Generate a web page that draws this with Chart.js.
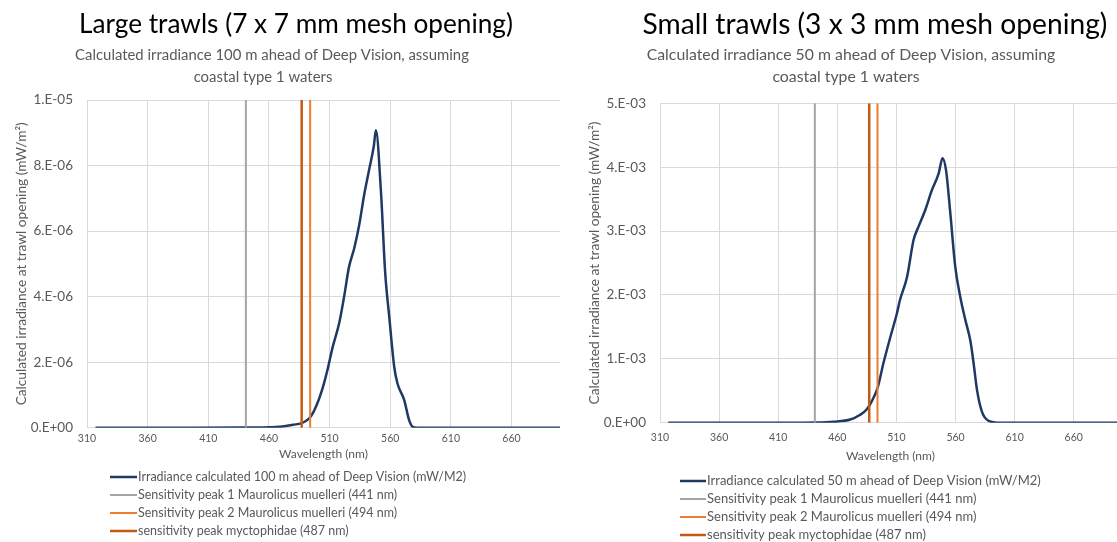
<!DOCTYPE html>
<html>
<head>
<meta charset="utf-8">
<script src="https://cdn.jsdelivr.net/npm/chart.js@4.4.1/dist/chart.umd.min.js"></script>
<style>
  html, body { margin: 0; padding: 0; background: #fff; }
  body { width: 1117px; height: 542px; overflow: hidden; position: relative; }
  canvas { position: absolute; top: 0; }
  #large { left: 0; }
  #small { left: 560px; }
</style>
</head>
<body>
<canvas id="large" width="560" height="542"></canvas>
<canvas id="small" width="565" height="542"></canvas>
<script>
// Calculated spectral irradiance (mW/m²) 100 m ahead of Deep Vision (large trawls)
const largeWavelengths = [317, 400, 440, 460, 469, 475, 480, 487, 491, 494, 497, 499, 502, 505, 508.5, 512.5,
  518, 522, 526, 530.5, 534.5, 538.5, 542.5, 546.5, 548.2, 552.3, 555.9, 559.2, 563.3, 566, 571.5, 575.6,
  578.4, 582, 700];
const largeIrradiance = [0, 0, 0.003e-6, 0.015e-6, 0.03e-6, 0.06e-6, 0.09e-6, 0.14e-6, 0.22e-6, 0.32e-6,
  0.5e-6, 0.66e-6, 0.95e-6, 1.3e-6, 1.8e-6, 2.45e-6, 3.2e-6, 4.0e-6, 4.9e-6, 5.5e-6, 6.2e-6, 7.1e-6,
  7.85e-6, 8.6e-6, 9.08e-6, 7.25e-6, 4.71e-6, 3.39e-6, 1.86e-6, 1.35e-6, 0.85e-6, 0.23e-6, 0.03e-6, 0, 0];

// Calculated spectral irradiance (mW/m²) 50 m ahead of Deep Vision (small trawls)
const smallWavelengths = [317, 420, 441, 457, 471, 479, 485, 489, 494, 499, 505, 510.4, 513, 519, 524.5,
  528.7, 534.4, 540, 545.7, 549, 552, 555.6, 559.8, 564, 568.3, 572.5, 575.3, 578.2, 582.4, 588, 598, 700];
const smallIrradiance = [0, 0, 0.003e-3, 0.016e-3, 0.05e-3, 0.12e-3, 0.21e-3, 0.33e-3, 0.54e-3, 0.93e-3,
  1.35e-3, 1.71e-3, 1.92e-3, 2.28e-3, 2.86e-3, 3.07e-3, 3.33e-3, 3.64e-3, 3.90e-3, 4.14e-3, 3.95e-3,
  3.28e-3, 2.44e-3, 1.97e-3, 1.61e-3, 1.29e-3, 0.93e-3, 0.51e-3, 0.17e-3, 0.03e-3, 0, 0];

// Visual sensitivity peaks (nm)
const peakWavelengths = [441, 494, 487];
const peakLabels = [
  'Sensitivity peak 1 Maurolicus muelleri (441 nm)',
  'Sensitivity peak 2 Maurolicus muelleri (494 nm)',
  'sensitivity peak myctophidae (487 nm)'
];

// Axis ticks
const wavelengthTicks = [310, 360, 410, 460, 510, 560, 610, 660];
const largeYTicks = [0, 2e-6, 4e-6, 6e-6, 8e-6, 1e-5];
const smallYTicks = [0, 1e-3, 2e-3, 3e-3, 4e-3, 5e-3];

const FONT = 'Lato, "Open Sans", sans-serif';
const GREY_TEXT = '#595959';
const GRID = '#d9d9d9';
const IRRADIANCE_COLOR = '#1f3864';
const PEAK_COLORS = ['#a5a5a5', '#ed7d31', '#c55a11'];
const PEAK_WIDTHS = [2, 2, 2.5];

// Excel-style scientific labels: 8.E-06, 0.E+00
function sciLabel(v) {
  if (v === 0) return '0.E+00';
  const [m, e] = v.toExponential(0).split('e');
  const n = parseInt(e, 10);
  return m + '.E' + (n < 0 ? '-' : '+') + String(Math.abs(n)).padStart(2, '0');
}

// Title and subtitle lines drawn above the plot
function headings(items) {
  return {
    id: 'headings',
    afterDraw(chart) {
      const ctx = chart.ctx;
      ctx.save();
      ctx.textAlign = 'center';
      ctx.textBaseline = 'middle';
      for (const h of items) {
        ctx.font = h.size + 'px ' + FONT;
        ctx.fillStyle = h.color;
        ctx.fillText(h.text, h.x, h.y);
      }
      ctx.restore();
    }
  };
}

// Vertical series key below the axis
function seriesKey(k) {
  return {
    id: 'seriesKey',
    afterDraw(chart) {
      const ctx = chart.ctx;
      ctx.save();
      ctx.font = k.size + 'px ' + FONT;
      ctx.textAlign = 'left';
      ctx.textBaseline = 'middle';
      chart.data.datasets.forEach((ds, i) => {
        const y = k.top + i * k.step;
        ctx.strokeStyle = ds.borderColor;
        ctx.lineWidth = ds.borderWidth;
        ctx.beginPath();
        ctx.moveTo(k.left, y);
        ctx.lineTo(k.left + k.len, y);
        ctx.stroke();
        ctx.fillStyle = GREY_TEXT;
        ctx.fillText(ds.label, k.left + k.len + 1, y);
      });
      ctx.restore();
    }
  };
}

function buildChart(id, p) {
  const yMax = p.yTicks[p.yTicks.length - 1];
  const datasets = [{
    label: p.seriesLabel,
    data: p.wavelengths.map((x, i) => ({ x, y: p.values[i] })),
    borderColor: IRRADIANCE_COLOR,
    borderWidth: 2.5,
    pointRadius: 0,
    cubicInterpolationMode: 'monotone',
    order: 1
  }];
  peakWavelengths.forEach((w, i) => {
    datasets.push({
      label: peakLabels[i],
      data: [{ x: w, y: 0 }, { x: w, y: yMax }],
      borderColor: PEAK_COLORS[i],
      borderWidth: PEAK_WIDTHS[i],
      pointRadius: 0,
      order: 0
    });
  });

  return new Chart(document.getElementById(id), {
    type: 'line',
    data: { datasets },
    options: {
      responsive: false,
      animation: false,
      devicePixelRatio: 1,
      layout: { padding: p.padding },
      plugins: { legend: { display: false }, tooltip: { enabled: false }, title: { display: false } },
      scales: {
        x: {
          type: 'linear', min: 310, max: 700,
          afterBuildTicks: s => { s.ticks = wavelengthTicks.map(v => ({ value: v })); },
          afterFit: s => { s.height = p.xAxisHeight; },
          grid: { color: GRID, drawTicks: false },
          border: { color: GRID },
          ticks: { padding: p.xTickPad, autoSkip: false, maxRotation: 0, color: GREY_TEXT,
                   font: { family: FONT, size: 10.5 } },
          title: { display: true, text: 'Wavelength (nm)', color: GREY_TEXT,
                   font: { family: FONT, size: 12 }, padding: { top: 0, bottom: p.xTitlePad } }
        },
        y: {
          type: 'linear', min: 0, max: yMax,
          afterBuildTicks: s => { s.ticks = p.yTicks.map(v => ({ value: v })); },
          afterFit: s => { s.width = p.yAxisWidth; },
          grid: { color: GRID, drawTicks: false },
          border: { color: GRID },
          ticks: { padding: 14, color: GREY_TEXT, font: { family: FONT, size: 13.5 },
                   callback: v => sciLabel(v) },
          title: { display: true, text: 'Calculated irradiance at trawl opening (mW/m²)', color: GREY_TEXT,
                   font: { family: FONT, size: 13.7 }, padding: { top: p.yTitlePad, bottom: 0 } }
        }
      }
    },
    plugins: [headings(p.headings), seriesKey(p.key)]
  });
}

function draw() {
  buildChart('large', {
    wavelengths: largeWavelengths,
    values: largeIrradiance,
    yTicks: largeYTicks,
    seriesLabel: 'Irradiance calculated 100 m ahead of Deep Vision (mW/M2)',
    padding: { top: 100, left: 0, right: 0, bottom: 74.3 },
    xAxisHeight: 40, xTickPad: 5, xTitlePad: 6,
    yAxisWidth: 87, yTitlePad: 13,
    headings: [
      { text: 'Large trawls (7 x 7 mm mesh opening)', x: 296, y: 25, size: 26.2, color: '#000' },
      { text: 'Calculated irradiance 100 m ahead of Deep Vision, assuming', x: 272, y: 55, size: 14.9, color: GREY_TEXT },
      { text: 'coastal type 1 waters', x: 263, y: 77, size: 14.9, color: GREY_TEXT }
    ],
    key: { left: 110, len: 27, top: 477, step: 18, size: 12.5 }
  });
  buildChart('small', {
    wavelengths: smallWavelengths,
    values: smallIrradiance,
    yTicks: smallYTicks,
    seriesLabel: 'Irradiance calculated 50 m ahead of Deep Vision (mW/M2)',
    padding: { top: 103.3, left: 0, right: 4, bottom: 74.3 },
    xAxisHeight: 45, xTickPad: 9, xTitlePad: 4,
    yAxisWidth: 100, yTitlePad: 26,
    headings: [
      { text: 'Small trawls (3 x 3 mm mesh opening)', x: 315, y: 25, size: 28.2, color: '#000' },
      { text: 'Calculated irradiance 50 m ahead of Deep Vision, assuming', x: 291, y: 55, size: 15.8, color: GREY_TEXT },
      { text: 'coastal type 1 waters', x: 286, y: 77, size: 15.8, color: GREY_TEXT }
    ],
    key: { left: 120, len: 26, top: 481, step: 18, size: 13 }
  });
}

if (document.fonts && document.fonts.load) {
  Promise.all(['25px Lato', '12px Lato'].map(f => document.fonts.load(f))).then(draw, draw);
} else {
  draw();
}
</script>
</body>
</html>
